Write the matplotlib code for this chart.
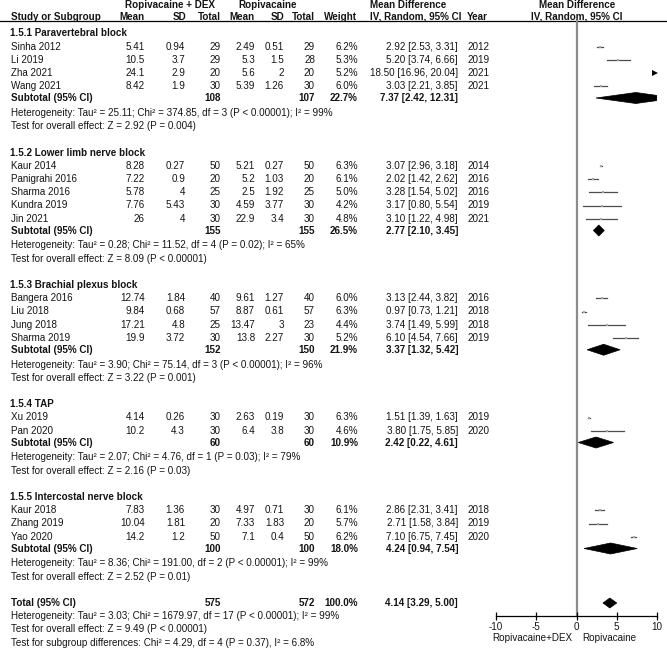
import numpy
import matplotlib
matplotlib.use('Agg')
import matplotlib.pyplot as plt
from matplotlib.patches import Polygon

plt.rcParams['font.family'] = ['Liberation Sans', 'DejaVu Sans']

# ---- data ----
group_names = ['1.5.1 Paravertebral block', '1.5.2 Lower limb nerve block',
               '1.5.3 Brachial plexus block', '1.5.4 TAP', '1.5.5 Intercostal nerve block']

study_names = [['Sinha 2012', 'Li 2019', 'Zha 2021', 'Wang 2021'],
               ['Kaur 2014', 'Panigrahi 2016', 'Sharma 2016', 'Kundra 2019', 'Jin 2021'],
               ['Bangera 2016', 'Liu 2018', 'Jung 2018', 'Sharma 2019'],
               ['Xu 2019', 'Pan 2020'],
               ['Kaur 2018', 'Zhang 2019', 'Yao 2020']]
dex_mean = [['5.41', '10.5', '24.1', '8.42'],
            ['8.28', '7.22', '5.78', '7.76', '26'],
            ['12.74', '9.84', '17.21', '19.9'],
            ['4.14', '10.2'],
            ['7.83', '10.04', '14.2']]
dex_sd = [['0.94', '3.7', '2.9', '1.9'],
          ['0.27', '0.9', '4', '5.43', '4'],
          ['1.84', '0.68', '4.8', '3.72'],
          ['0.26', '4.3'],
          ['1.36', '1.81', '1.2']]
dex_n = [[29, 29, 20, 30], [50, 20, 25, 30, 30], [40, 57, 25, 30], [30, 30], [30, 20, 50]]
rop_mean = [['2.49', '5.3', '5.6', '5.39'],
            ['5.21', '5.2', '2.5', '4.59', '22.9'],
            ['9.61', '8.87', '13.47', '13.8'],
            ['2.63', '6.4'],
            ['4.97', '7.33', '7.1']]
rop_sd = [['0.51', '1.5', '2', '1.26'],
          ['0.27', '1.03', '1.92', '3.77', '3.4'],
          ['1.27', '0.61', '3', '2.27'],
          ['0.19', '3.8'],
          ['0.71', '1.83', '0.4']]
rop_n = [[29, 28, 20, 30], [50, 20, 25, 30, 30], [40, 57, 23, 30], [30, 30], [30, 20, 50]]
weights = [[6.2, 5.3, 5.2, 6.0], [6.3, 6.1, 5.0, 4.2, 4.8], [6.0, 6.3, 4.4, 5.2], [6.3, 4.6], [6.1, 5.7, 6.2]]
md = [[2.92, 5.20, 18.50, 3.03], [3.07, 2.02, 3.28, 3.17, 3.10], [3.13, 0.97, 3.74, 6.10],
      [1.51, 3.80], [2.86, 2.71, 7.10]]
md_lo = [[2.53, 3.74, 16.96, 2.21], [2.96, 1.42, 1.54, 0.80, 1.22], [2.44, 0.73, 1.49, 4.54],
         [1.39, 1.75], [2.31, 1.58, 6.75]]
md_hi = [[3.31, 6.66, 20.04, 3.85], [3.18, 2.62, 5.02, 5.54, 4.98], [3.82, 1.21, 5.99, 7.66],
         [1.63, 5.85], [3.41, 3.84, 7.45]]
years = [[2012, 2019, 2021, 2021], [2014, 2016, 2016, 2019, 2021], [2016, 2018, 2018, 2019],
         [2019, 2020], [2018, 2019, 2020]]

sub_n1 = [108, 155, 152, 60, 100]
sub_n2 = [107, 155, 150, 60, 100]
sub_weight = [22.7, 26.5, 21.9, 10.9, 18.0]
sub_md = [7.37, 2.77, 3.37, 2.42, 4.24]
sub_lo = [2.42, 2.10, 1.32, 0.22, 0.94]
sub_hi = [12.31, 3.45, 5.42, 4.61, 7.54]
sub_het = ['Heterogeneity: Tau² = 25.11; Chi² = 374.85, df = 3 (P < 0.00001); I² = 99%',
           'Heterogeneity: Tau² = 0.28; Chi² = 11.52, df = 4 (P = 0.02); I² = 65%',
           'Heterogeneity: Tau² = 3.90; Chi² = 75.14, df = 3 (P < 0.00001); I² = 96%',
           'Heterogeneity: Tau² = 2.07; Chi² = 4.76, df = 1 (P = 0.03); I² = 79%',
           'Heterogeneity: Tau² = 8.36; Chi² = 191.00, df = 2 (P < 0.00001); I² = 99%']
sub_test = ['Test for overall effect: Z = 2.92 (P = 0.004)',
            'Test for overall effect: Z = 8.09 (P < 0.00001)',
            'Test for overall effect: Z = 3.22 (P = 0.001)',
            'Test for overall effect: Z = 2.16 (P = 0.03)',
            'Test for overall effect: Z = 2.52 (P = 0.01)']

total_n1, total_n2 = 575, 572
total_md, total_lo, total_hi = 4.14, 3.29, 5.00
total_lines = ['Heterogeneity: Tau² = 3.03; Chi² = 1679.97, df = 17 (P < 0.00001); I² = 99%',
               'Test for overall effect: Z = 9.49 (P < 0.00001)',
               'Test for subgroup differences: Chi² = 4.29, df = 4 (P = 0.37), I² = 6.8%']

x_ticks = [-10, -5, 0, 5, 10]
favours = ['Ropivacaine+DEX', 'Ropivacaine']

# ---- layout (pixels) ----
W, H = 667, 649
FS = 7.1
TXT = '#141414'
PITCH = 13.25


def row_y(r):
    return 46.5 + (r - 3) * PITCH


fig = plt.figure(figsize=(W / 100, H / 100), dpi=100)
tab = fig.add_axes([0, 0, 1, 1])
tab.set_xlim(0, W)
tab.set_ylim(H, 0)
tab.axis('off')

x0_px, x1_px = 496, 657
fax = fig.add_axes([x0_px / W, 0, (x1_px - x0_px) / W, 1])
fax.set_xlim(-10, 10)
fax.set_ylim(H, 0)
fax.patch.set_alpha(0)
for s in ['top', 'left', 'right']:
    fax.spines[s].set_visible(False)
fax.set_yticks([])


def put(x, y, s, ha='left', bold=False):
    tab.text(x, y, s, ha=ha, va='center', fontsize=FS, color=TXT,
             fontweight='bold' if bold else 'normal')


# headers
put(170, 5, 'Ropivacaine + DEX', ha='center', bold=True)
put(268, 5, 'Ropivacaine', ha='center', bold=True)
put(408, 5, 'Mean Difference', ha='center', bold=True)
put(577, 5, 'Mean Difference', ha='center', bold=True)
hy = 16.5
put(11, hy, 'Study or Subgroup', bold=True)
put(145, hy, 'Mean', ha='right', bold=True)
put(186, hy, 'SD', ha='right', bold=True)
put(221, hy, 'Total', ha='right', bold=True)
put(254, hy, 'Mean', ha='right', bold=True)
put(284, hy, 'SD', ha='right', bold=True)
put(315, hy, 'Total', ha='right', bold=True)
put(357, hy, 'Weight', ha='right', bold=True)
put(462, hy, 'IV, Random, 95% CI', ha='right', bold=True)
put(467, hy, 'Year', bold=True)
put(577, hy, 'IV, Random, 95% CI', ha='center', bold=True)
tab.plot([0, W], [21, 21], color='black', lw=0.9)


def diamond(c, lo, hi, y, h=5.5):
    fax.add_patch(Polygon([[lo, y], [c, y - h], [hi, y], [c, y + h]], closed=True,
                          facecolor='black', edgecolor='black', lw=0.5))


r = 2
for g in range(len(group_names)):
    put(10, row_y(r), group_names[g], bold=True)
    r += 1
    for i in range(len(study_names[g])):
        y = row_y(r)
        put(11, y, study_names[g][i])
        put(145, y, dex_mean[g][i], ha='right')
        put(185, y, dex_sd[g][i], ha='right')
        put(221, y, str(dex_n[g][i]), ha='right')
        put(255, y, rop_mean[g][i], ha='right')
        put(284, y, rop_sd[g][i], ha='right')
        put(315, y, str(rop_n[g][i]), ha='right')
        put(358, y, '%.1f%%' % weights[g][i], ha='right')
        put(458, y, '%.2f [%.2f, %.2f]' % (md[g][i], md_lo[g][i], md_hi[g][i]), ha='right')
        put(467, y, str(years[g][i]))
        if md_lo[g][i] > 10:
            # CI lies beyond the axis: arrow at the right edge
            fax.plot([9.8], [y], marker='>', color='black', ms=4, mew=0, clip_on=False)
        else:
            fax.plot([md_lo[g][i], md_hi[g][i]], [y, y], color='#4d4d4d', lw=0.9)
            fax.plot([md[g][i]], [y], marker='s', color='#a6a6a6', ms=2.0, mew=0)
        r += 1
    y = row_y(r) - 1.5
    put(11, y, 'Subtotal (95% CI)', bold=True)
    put(221, y, str(sub_n1[g]), ha='right', bold=True)
    put(315, y, str(sub_n2[g]), ha='right', bold=True)
    put(358, y, '%.1f%%' % sub_weight[g], ha='right', bold=True)
    put(458, y, '%.2f [%.2f, %.2f]' % (sub_md[g], sub_lo[g], sub_hi[g]), ha='right', bold=True)
    diamond(sub_md[g], sub_lo[g], sub_hi[g], y)
    r += 1
    put(11, row_y(r), sub_het[g])
    r += 1
    put(11, row_y(r), sub_test[g])
    r += 2

# overall
y = row_y(r)
put(11, y, 'Total (95% CI)', bold=True)
put(221, y, str(total_n1), ha='right', bold=True)
put(315, y, str(total_n2), ha='right', bold=True)
put(358, y, '100.0%', ha='right', bold=True)
put(458, y, '%.2f [%.2f, %.2f]' % (total_md, total_lo, total_hi), ha='right', bold=True)
diamond(total_md, total_lo, total_hi, y, h=5)
for k, s in enumerate(total_lines):
    put(11, row_y(r + 1 + k), s)

# zero line and axis
axis_y = 616
fax.plot([0, 0], [21, axis_y], color='#8c8c8c', lw=1.6, zorder=0)
fax.spines['bottom'].set_position(('data', axis_y))
fax.spines['bottom'].set_linewidth(0.9)
fax.set_xticks(x_ticks)
fax.set_xticklabels([str(t) for t in x_ticks])
fax.tick_params(axis='x', direction='inout', length=6, width=0.9, labelsize=FS,
                labelcolor=TXT, pad=1)
put(572, 638, favours[0], ha='right')
put(582, 638, favours[1])

fig.savefig('out.png', dpi=100)
